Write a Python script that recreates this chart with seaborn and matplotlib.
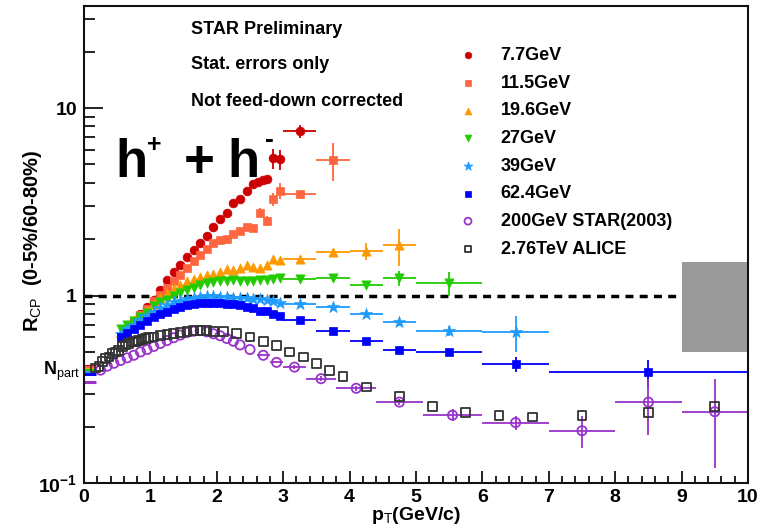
import matplotlib
matplotlib.use("Agg")
import matplotlib.pyplot as plt
import seaborn as sns
from matplotlib.ticker import FixedLocator, FixedFormatter, MultipleLocator, NullFormatter

# ---------------------------------------------------------------- data
# Beam Energy Scan, bin centres in pT (GeV/c) and R_CP (0-5%/60-80%)
pt_77 = [0.55, 0.65, 0.75, 0.85, 0.95, 1.05, 1.15, 1.25, 1.35, 1.45, 1.55, 1.65, 1.75,
         1.85, 1.95, 2.05, 2.15, 2.25, 2.35, 2.45, 2.55, 2.62, 2.69, 2.76, 2.85, 2.95, 3.25]
rcp_77 = [0.60, 0.66, 0.73, 0.80, 0.87, 0.95, 1.07, 1.21, 1.33, 1.46, 1.61, 1.75, 1.91,
          2.07, 2.31, 2.57, 2.77, 3.12, 3.29, 3.60, 3.92, 4.04, 4.12, 4.17, 5.40, 5.34, 7.50]
xerr_77 = [0] * 26 + [0.25]
yerr_77 = [0] * 22 + [0.15, 0.15, 0.65, 0.65, 0.6]

pt_115 = [0.55, 0.65, 0.75, 0.85, 0.95, 1.05, 1.15, 1.25, 1.35, 1.45, 1.55, 1.65, 1.75,
          1.85, 1.95, 2.05, 2.15, 2.25, 2.35, 2.45, 2.55, 2.65, 2.75, 2.85, 2.95, 3.25, 3.75]
rcp_115 = [0.60, 0.66, 0.73, 0.79, 0.85, 0.93, 1.01, 1.10, 1.19, 1.29, 1.40, 1.52, 1.65,
           1.78, 1.90, 1.98, 2.00, 2.12, 2.20, 2.33, 2.30, 2.77, 2.50, 3.26, 3.61, 3.46, 5.30]
xerr_115 = [0] * 25 + [0.25, 0.25]
yerr_115 = [0] * 21 + [0.15, 0.15, 0.25, 0.35, 0.15, 1.2]

pt_196 = [0.55, 0.65, 0.75, 0.85, 0.95, 1.05, 1.15, 1.25, 1.35, 1.45, 1.55, 1.65, 1.75,
          1.85, 1.95, 2.05, 2.15, 2.25, 2.35, 2.45, 2.55, 2.65, 2.75, 2.85, 2.95,
          3.25, 3.75, 4.25, 4.75]
rcp_196 = [0.64, 0.69, 0.74, 0.79, 0.84, 0.90, 0.97, 1.03, 1.09, 1.14, 1.19, 1.23, 1.26,
           1.29, 1.31, 1.34, 1.38, 1.36, 1.40, 1.45, 1.42, 1.41, 1.46, 1.57, 1.54,
           1.57, 1.71, 1.73, 1.85]
xerr_196 = [0] * 25 + [0.25, 0.25, 0.25, 0.25]
yerr_196 = [0] * 25 + [0.04, 0.06, 0.18, 0.42]

pt_27 = [0.55, 0.65, 0.75, 0.85, 0.95, 1.05, 1.15, 1.25, 1.35, 1.45, 1.55, 1.65, 1.75,
         1.85, 1.95, 2.05, 2.15, 2.25, 2.35, 2.45, 2.55, 2.65, 2.75, 2.85, 2.95,
         3.25, 3.75, 4.25, 4.75, 5.5]
rcp_27 = [0.66, 0.70, 0.73, 0.77, 0.81, 0.88, 0.92, 0.95, 0.99, 1.03, 1.07, 1.10, 1.14,
          1.16, 1.18, 1.19, 1.20, 1.21, 1.20, 1.19, 1.20, 1.21, 1.21, 1.22, 1.24,
          1.23, 1.24, 1.14, 1.24, 1.17]
xerr_27 = [0] * 25 + [0.25, 0.25, 0.25, 0.25, 0.5]
yerr_27 = [0] * 25 + [0.03, 0.04, 0.05, 0.11, 0.17]

pt_39 = [0.55, 0.65, 0.75, 0.85, 0.95, 1.05, 1.15, 1.25, 1.35, 1.45, 1.55, 1.65, 1.75,
         1.85, 1.95, 2.05, 2.15, 2.25, 2.35, 2.45, 2.55, 2.65, 2.75, 2.85, 2.95,
         3.25, 3.75, 4.25, 4.75, 5.5, 6.5]
rcp_39 = [0.62, 0.66, 0.70, 0.74, 0.78, 0.82, 0.86, 0.89, 0.92, 0.94, 0.96, 0.975, 0.985,
          0.99, 0.99, 0.985, 0.98, 0.975, 0.97, 0.965, 0.96, 0.96, 0.95, 0.93, 0.91,
          0.90, 0.87, 0.80, 0.72, 0.65, 0.64]
xerr_39 = [0] * 25 + [0.25, 0.25, 0.25, 0.25, 0.5, 0.5]
yerr_39 = [0] * 25 + [0.01, 0.01, 0.02, 0.03, 0.04, 0.14]

pt_624 = [0.55, 0.65, 0.75, 0.85, 0.95, 1.05, 1.15, 1.25, 1.35, 1.45, 1.55, 1.65, 1.75,
          1.85, 1.95, 2.05, 2.15, 2.25, 2.35, 2.45, 2.55, 2.65, 2.75, 2.85, 2.95,
          3.25, 3.75, 4.25, 4.75, 5.5, 6.5, 8.5]
rcp_624 = [0.60, 0.63, 0.66, 0.70, 0.73, 0.77, 0.80, 0.82, 0.85, 0.87, 0.885, 0.90, 0.91,
           0.915, 0.915, 0.91, 0.905, 0.90, 0.89, 0.87, 0.86, 0.83, 0.83, 0.80, 0.78,
           0.74, 0.65, 0.57, 0.51, 0.50, 0.43, 0.39]
xerr_624 = [0] * 25 + [0.25, 0.25, 0.25, 0.25, 0.5, 0.5, 1.5]
yerr_624 = [0] * 25 + [0.01, 0.01, 0.01, 0.01, 0.015, 0.04, 0.065]

# Au+Au 200 GeV (STAR 2003)
pt_200 = [0.25, 0.35, 0.45, 0.55, 0.65, 0.75, 0.85, 0.95, 1.05, 1.15, 1.25, 1.35, 1.45,
          1.55, 1.65, 1.75, 1.85, 1.95, 2.05, 2.15, 2.25, 2.35, 2.5, 2.7, 2.9,
          3.17, 3.57, 4.1, 4.75, 5.55, 6.5, 7.5, 8.5, 9.5]
rcp_200 = [0.40, 0.42, 0.435, 0.45, 0.465, 0.48, 0.50, 0.515, 0.535, 0.555, 0.575, 0.595,
           0.615, 0.635, 0.645, 0.65, 0.64, 0.625, 0.61, 0.59, 0.57, 0.545, 0.515, 0.48,
           0.44, 0.415, 0.36, 0.32, 0.27, 0.23, 0.21, 0.19, 0.27, 0.24]
xerr_200 = [0] * 23 + [0.1, 0.1, 0.17, 0.22, 0.3, 0.35, 0.45, 0.5, 0.5, 0.5, 0.5]
yerr_200 = [0] * 25 + [0.01, 0.01, 0.01, 0.01, 0.017, 0.018, 0.037, 0.09, 0.12]

# Pb+Pb 2.76 TeV (ALICE)
pt_alice = [0.175, 0.225, 0.275, 0.325, 0.375, 0.425, 0.475, 0.525, 0.575, 0.625, 0.675,
            0.725, 0.775, 0.825, 0.875, 0.925, 0.975, 1.05, 1.15, 1.25, 1.35, 1.45, 1.55,
            1.65, 1.75, 1.85, 1.95, 2.1, 2.3, 2.5, 2.7, 2.9, 3.1, 3.3, 3.5, 3.7, 3.9,
            4.25, 4.75, 5.25, 5.75, 6.25, 6.75, 7.5, 8.5, 9.5]
rcp_alice = [0.41, 0.42, 0.445, 0.46, 0.47, 0.49, 0.50, 0.51, 0.535, 0.545, 0.555, 0.565,
             0.57, 0.575, 0.585, 0.59, 0.595, 0.60, 0.61, 0.62, 0.63, 0.637, 0.645, 0.648,
             0.65, 0.648, 0.645, 0.64, 0.627, 0.60, 0.57, 0.54, 0.50, 0.47, 0.435, 0.40,
             0.37, 0.325, 0.29, 0.256, 0.238, 0.23, 0.225, 0.228, 0.238, 0.256]

# N_part scaling levels for each energy
npart_levels = [0.423, 0.415, 0.408, 0.400, 0.392, 0.382, 0.345]
npart_colors = ["#cc0000", "#ff6640", "#ff9900", "#22cc00", "#1e9bff", "#0000ff", "#9933cc"]

# ---------------------------------------------------------------- style
sns.set_theme(style="ticks", rc={"text.color": "black", "axes.labelcolor": "black",
                                 "xtick.color": "black", "ytick.color": "black",
                                 "axes.edgecolor": "black"})
plt.rcParams["font.family"] = ["Liberation Sans", "DejaVu Sans"]
plt.rcParams["mathtext.fontset"] = "custom"
plt.rcParams["mathtext.rm"] = "Liberation Sans"
plt.rcParams["mathtext.bf"] = "Liberation Sans:bold"
plt.rcParams["mathtext.it"] = "Liberation Sans:italic"

fig = plt.figure(figsize=(7.6, 5.31), dpi=100)
ax = fig.add_axes([84 / 760, 48 / 531, 664 / 760, 477 / 531])
ax.set_yscale("log")
ax.set_xlim(0, 10)
ax.set_ylim(0.1, 35)

# reference line and normalisation uncertainty box
ax.axhline(1.0, color="black", lw=2.5, ls=(0, (2.3, 1.8)), zorder=1)
ax.fill_between([9.0, 10.0], 0.5, 1.5, color="#9a9a9a", lw=0, zorder=1)

series = [
    ("7.7GeV", pt_77, rcp_77, xerr_77, yerr_77, "#cc0000", "o", 40, True),
    ("11.5GeV", pt_115, rcp_115, xerr_115, yerr_115, "#ff6640", "s", 36, True),
    ("19.6GeV", pt_196, rcp_196, xerr_196, yerr_196, "#ff9900", "^", 44, True),
    ("27GeV", pt_27, rcp_27, xerr_27, yerr_27, "#22cc00", "v", 44, True),
    ("39GeV", pt_39, rcp_39, xerr_39, yerr_39, "#1e9bff", "*", 80, True),
    ("62.4GeV", pt_624, rcp_624, xerr_624, yerr_624, "#0000ff", "s", 36, True),
    ("200GeV STAR(2003)", pt_200, rcp_200, xerr_200, yerr_200, "#9933cc", "o", 44, False),
    ("2.76TeV ALICE", pt_alice, rcp_alice, None, None, "#333333", "s", 40, False),
]

for name, x, y, xe, ye, col, mk, size, filled in series:
    if xe is not None:
        ax.errorbar(x, y, xerr=xe, yerr=ye, fmt="none", ecolor=col, elinewidth=1.3,
                    capsize=0, zorder=2)
    if filled:
        sns.scatterplot(x=x, y=y, ax=ax, color=col, marker=mk, s=size, edgecolor=col,
                        linewidth=0.5, label=name, zorder=3)
    else:
        sns.scatterplot(x=x, y=y, ax=ax, color=col, marker=mk, s=size, facecolor="none",
                        edgecolor=col, linewidth=1.3, label=name, zorder=3)

# N_part scaling marks at the left edge
ax.hlines(npart_levels, 0.0, 0.18, colors=npart_colors, lw=2.2, zorder=2)
ax.text(-0.006, 0.395, r"N$_{\rm part}$", transform=ax.get_yaxis_transform(),
        ha="right", va="center", fontsize=13, fontweight="bold")

# ---------------------------------------------------------------- axes
ax.yaxis.set_major_locator(FixedLocator([0.1, 1, 10]))
ax.yaxis.set_major_formatter(FixedFormatter([r"$\mathbf{10^{-1}}$", "1", "10"]))
ax.yaxis.set_minor_locator(FixedLocator([0.2, 0.3, 0.4, 0.5, 0.6, 0.7, 0.8, 0.9,
                                         2, 3, 4, 5, 6, 7, 8, 9, 20, 30]))
ax.yaxis.set_minor_formatter(NullFormatter())
ax.xaxis.set_major_locator(MultipleLocator(1))
ax.xaxis.set_minor_locator(MultipleLocator(0.2))

ax.tick_params(axis="both", which="both", direction="in", width=1.3, color="#111111")
ax.tick_params(axis="y", which="major", length=14, pad=5)
ax.tick_params(axis="y", which="minor", length=8)
ax.tick_params(axis="x", which="major", length=9, pad=4)
ax.tick_params(axis="x", which="minor", length=5)
for lab in ax.get_xticklabels() + ax.get_yticklabels():
    lab.set_fontsize(14)
    lab.set_fontweight("bold")
for sp in ax.spines.values():
    sp.set_linewidth(1.5)
    sp.set_color("#111111")

ax.set_xlabel(r"p$_{\rm T}$(GeV/c)", fontsize=14, fontweight="bold", labelpad=-0.5)
ax.set_ylabel(r"R$_{\rm CP}$  (0-5%/60-80%)", fontsize=14.5, fontweight="bold")
ax.yaxis.set_label_coords(-0.0595, 0.507)

# ---------------------------------------------------------------- annotations
for label, ybase in [("STAR Preliminary", 0.941), ("Stat. errors only", 0.868),
                     ("Not feed-down corrected", 0.790)]:
    ax.text(0.161, ybase, label, transform=ax.transAxes, fontsize=13,
            fontweight="bold", va="baseline")

# "h+ + h-" title assembled from pieces (offsets in points from the first baseline)
title_anchor = (0.047, 0.641)
for txt, dx, dy, fs in [("h", 0, 0, 38), ("+", 23, 18, 18), ("+", 49, 0, 38),
                        ("h", 80.6, 0, 38), ("-", 108, 22, 19)]:
    ax.annotate(txt, xy=title_anchor, xycoords="axes fraction", xytext=(dx, dy),
                textcoords="offset points", fontsize=fs, fontweight="bold",
                va="baseline", ha="left")

leg = ax.legend(loc="upper left", bbox_to_anchor=(459 / 760, 484 / 531),
                bbox_transform=fig.transFigure, frameon=False, fontsize=13,
                handlelength=1.0, handletextpad=1.3, labelspacing=0.59,
                borderpad=0, borderaxespad=0, markerscale=0.75)
for t in leg.get_texts():
    t.set_fontweight("bold")

fig.savefig("out.png", dpi=100)
